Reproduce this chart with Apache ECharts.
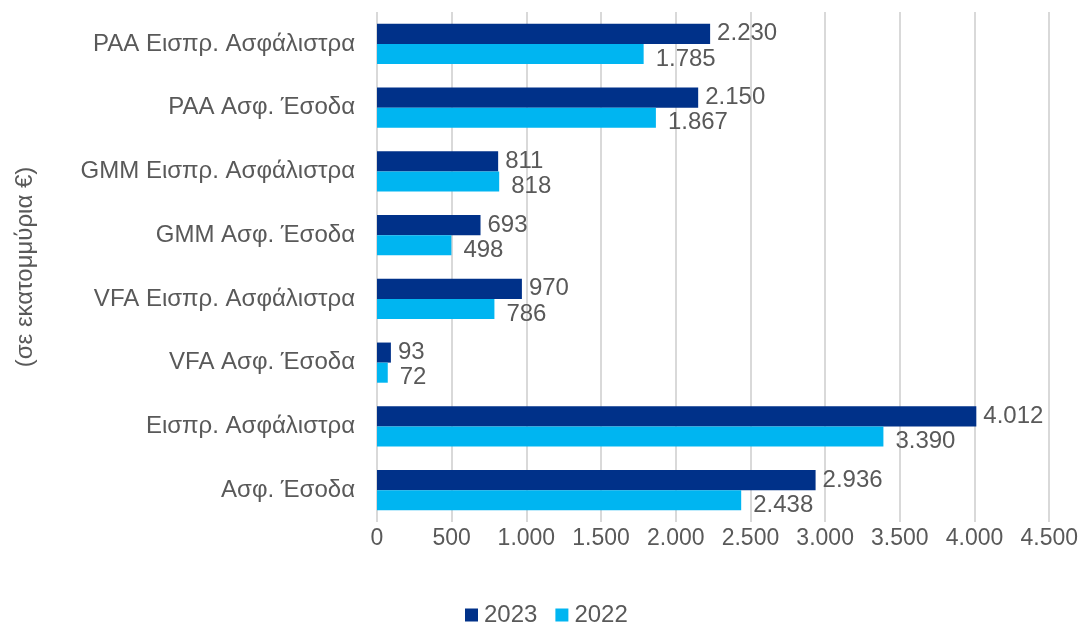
<!DOCTYPE html>
<html><head><meta charset="utf-8">
<script src="https://cdn.jsdelivr.net/npm/echarts@6/dist/echarts.min.js"></script>
<style>html,body{margin:0;padding:0;background:#fff}#c{width:1081px;height:623px}</style>
</head><body><div id="c"></div>
<script>
const categories = ["PAA Εισπρ. Ασφάλιστρα","PAA Ασφ. Έσοδα","GMM Εισπρ. Ασφάλιστρα","GMM Ασφ. Έσοδα","VFA Εισπρ. Ασφάλιστρα","VFA Ασφ. Έσοδα","Εισπρ. Ασφάλιστρα","Ασφ. Έσοδα"];
const values2023 = [2230, 2150, 811, 693, 970, 93, 4012, 2936];
const values2022 = [1785, 1867, 818, 498, 786, 72, 3390, 2438];
const seriesNames = ["2023", "2022"];
const axisTitle = "(σε εκατομμύρια €)";

const fmt = v => String(v).replace(/\B(?=(\d{3})+(?!\d))/g, '.');
const font = 'Liberation Sans, Arial, sans-serif';
const grey = '#595959';
const chart = echarts.init(document.getElementById('c'));
chart.setOption({
  animation: false,
  textStyle: {fontFamily: font},
  grid: {left: 377, right: 23, top: 12, bottom: 101, containLabel: false},
  legend: {
    top: 598, left: 460, itemWidth: 13, itemHeight: 13, itemGap: 18,
    icon: 'rect',
    textStyle: {fontSize: 24, color: grey, fontFamily: font, padding: [0, 0, 0, 1]},
    data: seriesNames
  },
  xAxis: {
    type: 'value', min: 0, max: 4500, interval: 500,
    axisLine: {show: false}, axisTick: {show: false},
    axisLabel: {fontSize: 23, color: grey, margin: 5, formatter: fmt},
    splitLine: {show: true, lineStyle: {color: '#D9D9D9', width: 2}}
  },
  yAxis: {
    type: 'category', data: categories, inverse: true,
    axisLine: {show: false}, axisTick: {show: false},
    axisLabel: {fontSize: 24, color: grey, margin: 22},
    name: axisTitle, nameLocation: 'middle', nameGap: 340, nameRotate: 90,
    nameTextStyle: {fontSize: 24, color: grey}
  },
  series: [
    {
      name: seriesNames[0], type: 'bar', data: values2023,
      barGap: '0%', barCategoryGap: '37%',
      itemStyle: {color: '#003189'},
      label: {show: true, position: 'right', distance: 7, fontSize: 24, color: grey, formatter: p => fmt(p.value)}
    },
    {
      name: seriesNames[1], type: 'bar', data: values2022,
      barGap: '0%', barCategoryGap: '37%',
      itemStyle: {color: '#00B5F1'},
      label: {show: true, position: 'right', distance: 12, offset: [0, 5], fontSize: 24, color: grey, formatter: p => fmt(p.value)}
    }
  ]
});
</script></body></html>
